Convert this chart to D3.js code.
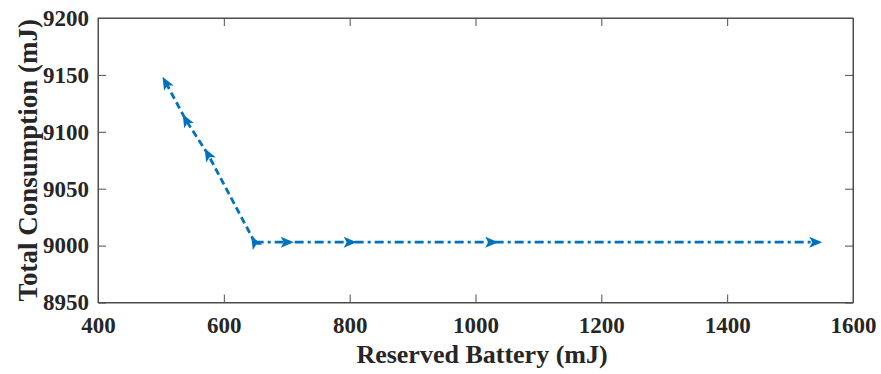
<!DOCTYPE html>
<html>
<head>
<meta charset="utf-8">
<script src="https://cdn.jsdelivr.net/npm/d3@7"></script>
<style>
  body { margin: 0; background: #fff; }
  text { font-family: "Liberation Serif", "Times New Roman", serif; font-weight: bold; }
</style>
</head>
<body>
<div id="vis"></div>
<script>
// data
let reserved = [508, 540, 575, 649, 700, 800, 1025, 1540];
let consumption = [9143, 9110, 9080, 9003, 9003, 9003, 9003, 9003];
let xTicks = [400, 600, 800, 1000, 1200, 1400, 1600];
let yTicks = [8950, 9000, 9050, 9100, 9150, 9200];

let margin = { top: 18, left: 98, right: 28, bottom: 71.5 },
  width = 881 - margin.left - margin.right,
  height = 374 - margin.top - margin.bottom;

let svg = d3.select('#vis')
  .append('svg')
  .attr('width', 881)
  .attr('height', 374);

let g = svg.append('g')
  .attr('transform', `translate(${margin.left},${margin.top})`);

let x = d3.scaleLinear().domain([400, 1600]).range([0, width]);
let y = d3.scaleLinear().domain([8950, 9200]).range([height, 0]);

let axisColor = '#4d4d4d';
let fmt = d3.format('d');

// box
g.append('rect')
  .attr('width', width)
  .attr('height', height)
  .attr('fill', 'none')
  .attr('stroke', axisColor)
  .attr('stroke-width', 1);

// axes with inward ticks
g.append('g')
  .attr('transform', `translate(0,${height})`)
  .call(d3.axisBottom(x).tickValues(xTicks).tickFormat(fmt).tickSizeInner(-8).tickSizeOuter(0).tickPadding(14));
g.append('g')
  .call(d3.axisLeft(y).tickValues(yTicks).tickFormat(fmt).tickSizeInner(-8).tickSizeOuter(0).tickPadding(9));
// ticks on top and right too
g.append('g')
  .call(d3.axisTop(x).tickValues(xTicks).tickSizeInner(-8).tickSizeOuter(0).tickFormat(''));
g.append('g')
  .attr('transform', `translate(${width},0)`)
  .call(d3.axisRight(y).tickValues(yTicks).tickSizeInner(-8).tickSizeOuter(0).tickFormat(''));

g.selectAll('.domain').attr('stroke', axisColor);
g.selectAll('.tick line').attr('stroke', axisColor);
g.selectAll('.tick text')
  .attr('fill', '#262626')
  .style('font-size', '23px')
  .style('font-family', '"Liberation Serif", serif')
  .style('font-weight', 'bold');

// axis labels
svg.append('text')
  .attr('x', 482)
  .attr('y', 363)
  .attr('text-anchor', 'middle')
  .attr('fill', '#262626')
  .style('font-size', '26px')
  .text('Reserved Battery (mJ)');

svg.append('text')
  .attr('transform', `translate(37,${margin.top + height / 2}) rotate(-90)`)
  .attr('text-anchor', 'middle')
  .attr('fill', '#262626')
  .style('font-size', '27px')
  .text('Total Consumption (mJ)');

let blue = '#0072BD';
let pts = reserved.map((r, i) => [x(r), y(consumption[i])]);
let corner = 3;

// slanted part: dashed
g.append('path')
  .attr('d', d3.line()(pts.slice(0, corner + 1)))
  .attr('fill', 'none')
  .attr('stroke', blue)
  .attr('stroke-width', 2.8)
  .attr('stroke-dasharray', '7,4');

// flat part: dash-dot
g.append('path')
  .attr('d', d3.line()(pts.slice(corner)))
  .attr('fill', 'none')
  .attr('stroke', blue)
  .attr('stroke-width', 2.8)
  .attr('stroke-dasharray', '9,4,3,4');

// arrow markers pointing along the path direction
let slantAngle = Math.atan2(pts[0][1] - pts[corner][1], pts[0][0] - pts[corner][0]) * 180 / Math.PI;
g.selectAll('.mk')
  .data(pts)
  .join('path')
  .attr('class', 'mk')
  .attr('d', 'M7,0 L-6,-5.5 L-3,0 L-6,5.5 Z')
  .attr('fill', blue)
  .attr('transform', (d, i) => {
    let a = i <= corner ? slantAngle : 0;
    return `translate(${d[0]},${d[1]}) rotate(${a})`;
  });
</script>
</body>
</html>
